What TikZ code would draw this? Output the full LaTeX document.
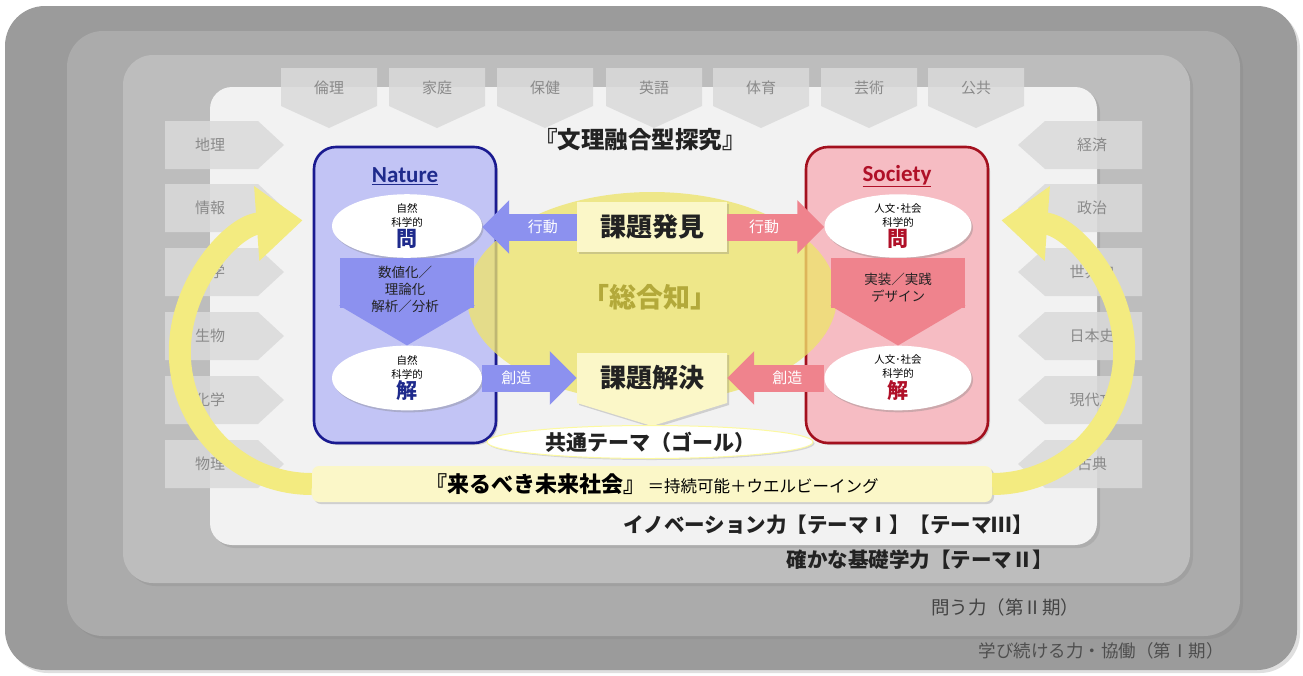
\documentclass[tikz,border=0pt]{standalone}
\usepackage{fontspec}
\newfontfamily\jp{Noto Sans CJK JP}
\newfontfamily\latinsans{Carlito}
\usetikzlibrary{shapes.geometric,arrows.meta,shadows,calc}
\definecolor{bandA}{HTML}{9B9B9B}
\definecolor{bandB}{HTML}{ABABAB}
\definecolor{bandC}{HTML}{BDBDBD}
\definecolor{innerbg}{HTML}{F2F2F2}
\definecolor{tabfill}{HTML}{DADADA}
\definecolor{tabtext}{HTML}{8A8A8A}
\definecolor{natfill}{HTML}{C2C4F5}
\definecolor{natline}{HTML}{1A1A90}
\definecolor{natdark}{HTML}{1E2A8C}
\definecolor{natarrow}{HTML}{8C91EF}
\definecolor{socfill}{HTML}{F6BCC3}
\definecolor{socline}{HTML}{A3101E}
\definecolor{socdark}{HTML}{B01028}
\definecolor{socarrow}{HTML}{EF838D}
\definecolor{cream}{HTML}{FBF7C8}
\definecolor{arcyellow}{HTML}{F3EB80}
\definecolor{bigyellow}{HTML}{EEE46C}
\definecolor{sogo}{HTML}{B3A93A}
\definecolor{textdark}{HTML}{222222}
\tikzset{
  bandshadow/.style={drop shadow={shadow xshift=3pt, shadow yshift=-3pt, opacity=0.25}},
  tabbox/.style={fill=tabfill, fill opacity=0.85},
  tablabel/.style={text=tabtext, font=\jp\fontsize{15}{16}\selectfont},
  sidebox/.style={rounded corners=22pt, line width=2.6pt, minimum width=182pt, minimum height=296pt,
    drop shadow={shadow xshift=2pt, shadow yshift=-2pt, opacity=0.3}},
  ellnode/.style={ellipse, fill=white, minimum width=150pt, minimum height=63pt, inner sep=0pt, align=center,
    font=\jp\fontsize{10.5}{14}\selectfont,
    drop shadow={shadow xshift=1.5pt, shadow yshift=-2pt, opacity=0.35}},
  blockarrow/.style={line width=27pt, -{Triangle[width=52pt,length=27pt]}},
  downarrow/.style={line width=134pt, -{Triangle[width=134pt,length=40pt]}},
  arrowlbl/.style={text=white, font=\jp\fontsize{15}{16}\selectfont},
  keytext/.style={font=\jp\bfseries\fontsize{26}{28}\selectfont, text=textdark},
  creambox/.style={fill=cream, minimum width=150pt, minimum height=50pt, inner sep=0pt,
    drop shadow={shadow xshift=2pt, shadow yshift=-2pt, opacity=0.3}},
  yarc/.style={draw=arcyellow, line width=22pt, -{Triangle[width=72pt,length=46pt]}},
  pentxt/.style={font=\jp\fontsize{13.5}{17}\selectfont, text=textdark, align=center},
}
\newcommand\bigchar[2]{\fontsize{21}{22}\selectfont\bfseries\color{#1}#2}
\begin{document}
\begin{tikzpicture}[x=1pt,y=-1pt,font=\jp]
\useasboundingbox (0,0) rectangle (1303,675);
\fill[white] (0,0) rectangle (1303,675);
% nested bands
\fill[bandA, rounded corners=40pt, bandshadow] (5,6) rectangle (1297,670);
\fill[bandB, rounded corners=36pt, bandshadow] (67,31) rectangle (1240,636);
\fill[bandC, rounded corners=30pt, bandshadow] (123,55) rectangle (1190,583);
\fill[innerbg, rounded corners=22pt, bandshadow] (210,87) rectangle (1097,545);
% band labels
\node[font=\jp\fontsize{17.5}{18}\selectfont, text=textdark!80] (lblA) at (1101,651) {学び続ける力・協働（第Ⅰ期）};
\node[font=\jp\fontsize{18.5}{19}\selectfont, text=textdark!85] (lblB) at (1005,607) {問う力（第Ⅱ期）};
\node[font=\jp\bfseries\fontsize{20.5}{22}\selectfont, text=textdark] (lblC) at (920,560) {確かな基礎学力【テーマⅡ】};
\node[font=\jp\bfseries\fontsize{20.5}{22}\selectfont, text=textdark] (lblD) at (828,525) {イノベーション力【テーマⅠ】【テーマⅢ】};
% top tabs
\foreach \x/\t in {329/倫理,437/家庭,545/保健,654/英語,761/体育,869/芸術,976/公共}{
  \fill[tabbox] (\x-48,68) -- (\x+48,68) -- (\x+48,106) -- (\x,128) -- (\x-48,106) -- cycle;
  \node[tablabel] at (\x,88) {\t};
}
% left tabs
\foreach \y/\t in {145/地理,208/情報,272/数学,336/生物,400/化学,464/物理}{
  \fill[tabbox] (165,\y-24) -- (258,\y-24) -- (284,\y) -- (258,\y+24) -- (165,\y+24) -- cycle;
  \node[tablabel] at (210,\y) {\t};
}
% right tabs
\foreach \y/\t in {145/経済,208/政治,272/世界史,336/日本史,400/現代文,464/古典}{
  \fill[tabbox] (1142,\y-24) -- (1045,\y-24) -- (1018,\y) -- (1045,\y+24) -- (1142,\y+24) -- cycle;
  \node[tablabel] at (1092,\y) {\t};
}
% title
\node[font=\jp\bfseries\fontsize{23.5}{26}\selectfont, text=textdark] (title) at (640,140) {『文理融合型探究』};
% side boxes
\node[sidebox, draw=natline, fill=natfill] (nat) at (405,295) {};
\node[sidebox, draw=socline, fill=socfill] (soc) at (897,295) {};
\node[text=natdark, font=\latinsans\bfseries\fontsize{23}{24}\selectfont] (natlbl) at (405,176) {\underline{Nature}};
\node[text=socdark, font=\latinsans\bfseries\fontsize{23}{24}\selectfont] (soclbl) at (897,176) {\underline{Society}};
% big yellow ellipse
\node[ellipse, fill=bigyellow, fill opacity=0.78, minimum width=370pt, minimum height=210pt] (sogo) at (652,297) {};
\node[text=sogo, font=\jp\bfseries\fontsize{27}{28}\selectfont] (sogolbl) at (650,297) {「総合知」};
% ellipses
\node[ellnode] (nq) at (407,226) {自然\\科学的\\[1pt]\bigchar{natdark}{問}};
\node[ellnode, minimum height=64pt] (ns) at (407,378) {自然\\科学的\\[1pt]\bigchar{natdark}{解}};
\node[ellnode, minimum width=147pt] (sq) at (898,226) {人文･社会\\科学的\\[1pt]\bigchar{socdark}{問}};
\node[ellnode, minimum width=147pt, minimum height=64pt] (ss) at (898,378) {人文･社会\\科学的\\[1pt]\bigchar{socdark}{解}};
% down arrows
\draw[downarrow, natarrow] (nq.south) -- (ns.north);
\node[pentxt] (natp) at (405,289) {数値化／\\理論化\\解析／分析};
\draw[downarrow, socarrow] (sq.south) -- (ss.north);
\node[pentxt] (socp) at (898,288) {実装／実践\\デザイン};
% central boxes
\node[creambox] (kh) at (652,227) {};
\node[keytext] at (kh) {課題発見};
\fill[cream, drop shadow={shadow xshift=2pt, shadow yshift=-2pt, opacity=0.3}] (577,353) -- (727,353) -- (727,403) -- (652,426) -- (577,403) -- cycle;
\node[minimum width=150pt, minimum height=50pt, inner sep=0pt, keytext] (kk) at (652,378) {課題解決};
% horizontal block arrows
\draw[blockarrow, natarrow] (kh.west) -- node[pos=0.36, arrowlbl] {行動} (kh.west -| nq.east);
\draw[blockarrow, socarrow] (kh.east) -- node[pos=0.38, arrowlbl] {行動} (kh.east -| sq.west);
\draw[blockarrow, natarrow] (ns.east) -- node[pos=0.36, arrowlbl] {創造} (ns.east -| kk.west);
\draw[blockarrow, socarrow] (ss.west) -- node[pos=0.38, arrowlbl] {創造} (ss.west -| kk.east);
% common theme
\node[ellipse, fill=white, draw=cream!80!yellow, line width=1pt, minimum width=326pt, minimum height=33pt, inner sep=0pt,
  font=\jp\bfseries\fontsize{21}{22}\selectfont, text=textdark,
  drop shadow={shadow xshift=1.5pt, shadow yshift=-1.5pt, opacity=0.25}] (goal) at (650,442) {共通テーマ（ゴール）};
% bottom bar
\node[fill=cream, rounded corners=7pt, minimum width=680pt, minimum height=36pt, inner sep=0pt,
  drop shadow={shadow xshift=2pt, shadow yshift=-2pt, opacity=0.3}] (bar) at (652,484)
  {{\bfseries\fontsize{22}{23}\selectfont 『来るべき未来社会』}\hspace{2pt}{\fontsize{16.5}{18}\selectfont ＝持続可能＋ウエルビーイング}};
% yellow circular arrows
\draw[yarc] (bar.west) arc[start angle=90, end angle=266, radius=132];
\draw[yarc] (bar.east) arc[start angle=90, end angle=-86, radius=132];
\end{tikzpicture}
\end{document}
